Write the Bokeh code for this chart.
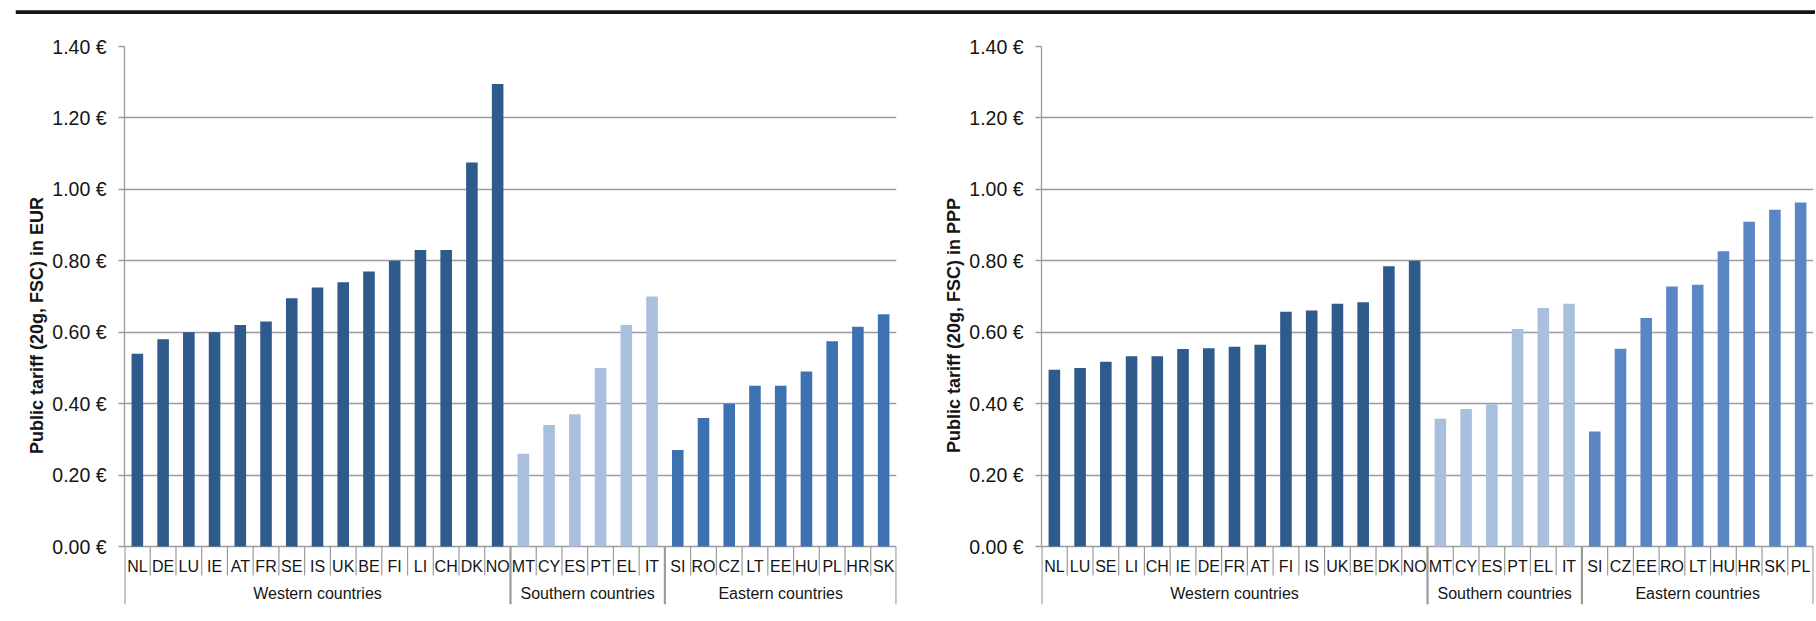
from bokeh.plotting import figure
from bokeh.models import Range1d, FixedTicker, ColumnDataSource, PrintfTickFormatter, Span
from bokeh.layouts import row, column
from bokeh.core.properties import value
from bokeh.embed import file_html
from bokeh.resources import INLINE

# ---------------- data ----------------
group_names = ["Western countries", "Southern countries", "Eastern countries"]

# Left chart: public tariff in EUR
eur_west_countries = ["NL", "DE", "LU", "IE", "AT", "FR", "SE", "IS", "UK", "BE", "FI", "LI", "CH", "DK", "NO"]
eur_west_values = [0.54, 0.58, 0.60, 0.60, 0.62, 0.63, 0.695, 0.725, 0.74, 0.77, 0.80, 0.83, 0.83, 1.075, 1.295]
eur_south_countries = ["MT", "CY", "ES", "PT", "EL", "IT"]
eur_south_values = [0.26, 0.34, 0.37, 0.50, 0.62, 0.70]
eur_east_countries = ["SI", "RO", "CZ", "LT", "EE", "HU", "PL", "HR", "SK"]
eur_east_values = [0.27, 0.36, 0.40, 0.45, 0.45, 0.49, 0.575, 0.615, 0.65]

# Right chart: public tariff in PPP
ppp_west_countries = ["NL", "LU", "SE", "LI", "CH", "IE", "DE", "FR", "AT", "FI", "IS", "UK", "BE", "DK", "NO"]
ppp_west_values = [0.495, 0.50, 0.517, 0.533, 0.533, 0.553, 0.555, 0.559, 0.565, 0.657, 0.661, 0.68, 0.684, 0.785, 0.80]
ppp_south_countries = ["MT", "CY", "ES", "PT", "EL", "IT"]
ppp_south_values = [0.358, 0.385, 0.398, 0.609, 0.668, 0.68]
ppp_east_countries = ["SI", "CZ", "EE", "RO", "LT", "HU", "HR", "SK", "PL"]
ppp_east_values = [0.322, 0.554, 0.64, 0.728, 0.733, 0.827, 0.909, 0.943, 0.963]

tick_values = [0.0, 0.2, 0.4, 0.6, 0.8, 1.0, 1.2, 1.4]
tick_labels = ["0.00 €", "0.20 €", "0.40 €", "0.60 €", "0.80 €", "1.00 €", "1.20 €", "1.40 €"]

y_titles = ["Public tariff (20g, FSC) in EUR", "Public tariff (20g, FSC) in PPP"]

# ---------------- styles ----------------
FONT = "Liberation Sans"
GRID = "#9c9c9c"
TEXT = "#151515"
WEST = "#2E5A8C"
SOUTH = "#A8BFDE"
EAST_LEFT = "#3E71B1"
EAST_RIGHT = "#5B86C4"

Y_BOTTOM = -0.1624
LABEL_Y = -0.055
GROUP_Y = -0.1316
SEP_SHORT = -0.0812

RULE_H = 14
FIG_H = 606


def make_chart(groups_c, groups_v, colors, y_title, width, border_left, border_right):
    countries = [c for g in groups_c for c in g]
    vals = [v for g in groups_v for v in g]
    cols = [colors[gi] for gi, g in enumerate(groups_c) for _ in g]
    n = len(countries)
    xs = [i + 0.5 for i in range(n)]

    p = figure(width=width, height=FIG_H, x_range=Range1d(0, n), y_range=Range1d(Y_BOTTOM, 1.40),
               output_backend="svg", toolbar_location=None, x_axis_location=None,
               min_border_left=border_left, min_border_right=border_right,
               min_border_top=32, min_border_bottom=FIG_H - 32 - 558)
    p.margin = (0, 0, 0, 0)
    p.outline_line_color = None
    p.background_fill_color = "white"
    p.border_fill_color = "white"
    p.xgrid.visible = False

    ticker = FixedTicker(ticks=tick_values)
    ax = p.yaxis[0]
    ax.ticker = ticker
    ax.bounds = (0, 1.4)
    ax.formatter = PrintfTickFormatter(format="%.2f €")
    ax.major_label_overrides = dict(zip(tick_values, tick_labels))
    ax.major_tick_out = 6
    ax.major_tick_in = 0
    ax.minor_tick_line_color = None
    ax.axis_line_color = GRID
    ax.axis_line_width = 1.3
    ax.major_tick_line_color = GRID
    ax.major_tick_line_width = 1.3
    ax.major_label_text_font = FONT
    ax.major_label_text_font_size = "19.5px"
    ax.major_label_text_color = TEXT
    ax.major_label_standoff = 12
    ax.axis_label = y_title
    ax.axis_label_text_font = FONT
    ax.axis_label_text_font_style = "bold"
    ax.axis_label_text_font_size = "18px"
    ax.axis_label_text_color = TEXT
    ax.axis_label_standoff = 2

    g = p.ygrid[0]
    g.ticker = ticker
    g.grid_line_color = GRID
    g.grid_line_width = 1.3

    src = ColumnDataSource(dict(x=xs, top=vals, color=cols, label=countries))
    p.vbar(x="x", top="top", bottom=0, width=0.45, fill_color="color", line_color=None, source=src)

    # category separators
    bounds = [0]
    for gc in groups_c:
        bounds.append(bounds[-1] + len(gc))
    short = [i for i in range(1, n) if i not in bounds]
    p.segment(x0=short, y0=[0] * len(short), x1=short, y1=[SEP_SHORT] * len(short),
              line_color=GRID, line_width=1.2)
    p.segment(x0=bounds, y0=[0] * len(bounds), x1=bounds, y1=[Y_BOTTOM] * len(bounds),
              line_color=GRID, line_width=2.2)

    # country labels
    p.text(x="x", y=LABEL_Y, text="label", source=src, text_align="center", text_baseline="middle",
           text_font=value(FONT), text_font_size="16px", text_color=TEXT)

    # group labels
    mids = [(bounds[i] + bounds[i + 1]) / 2 for i in range(len(groups_c))]
    p.text(x=mids, y=[GROUP_Y] * len(mids), text=group_names, text_align="center", text_baseline="middle",
           text_font=value(FONT), text_font_size="16px", text_color=TEXT)
    return p


p1 = make_chart([eur_west_countries, eur_south_countries, eur_east_countries],
                [eur_west_values, eur_south_values, eur_east_values],
                [WEST, SOUTH, EAST_LEFT], y_titles[0], 908, 124, 12)
p2 = make_chart([ppp_west_countries, ppp_south_countries, ppp_east_countries],
                [ppp_west_values, ppp_south_values, ppp_east_values],
                [WEST, SOUTH, EAST_RIGHT], y_titles[1], 907, 133, 2)

# thin header rule across the top of the page
rule = figure(width=1815, height=RULE_H, x_range=Range1d(0, 1), y_range=Range1d(0, RULE_H),
              output_backend="svg", toolbar_location=None, x_axis_location=None, y_axis_location=None,
              min_border_left=15, min_border_right=0, min_border_top=0, min_border_bottom=0)
rule.margin = (0, 0, 0, 0)
rule.outline_line_color = None
rule.xgrid.visible = False
rule.ygrid.visible = False
rule.border_fill_color = "white"
rule.add_layout(Span(location=2.2, dimension="width", line_color="#151515", line_width=4))

layout = column(rule, row(p1, p2, margin=(0, 0, 0, 0), spacing=0), margin=(0, 0, 0, 0), spacing=0)

open("out.html", "w").write(file_html(layout, INLINE))
